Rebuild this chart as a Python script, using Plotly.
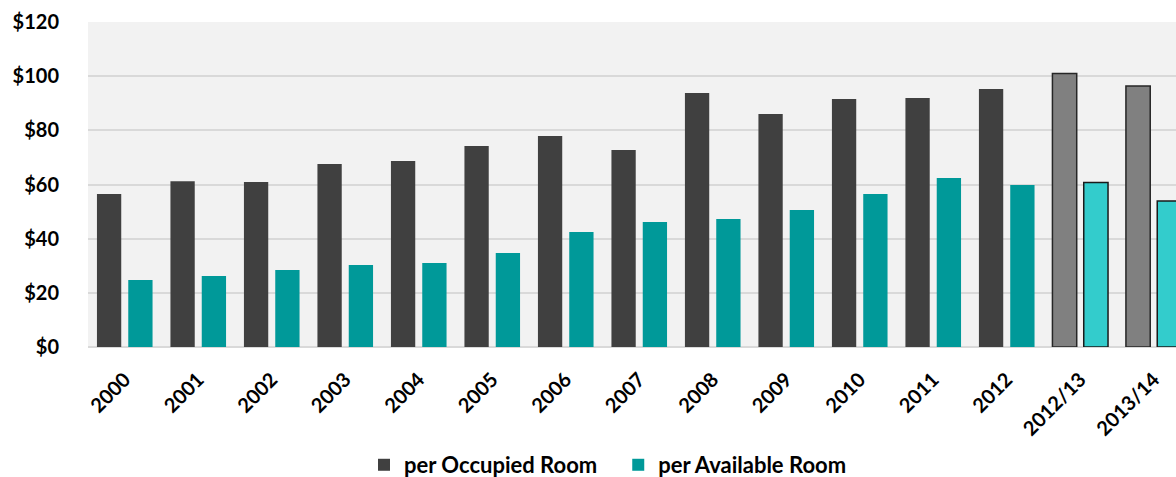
import plotly.graph_objects as go

categories = ["2000", "2001", "2002", "2003", "2004", "2005", "2006", "2007",
              "2008", "2009", "2010", "2011", "2012", "2012/13", "2013/14"]
per_occupied = [56.5, 61.2, 60.9, 67.6, 68.7, 74.2, 77.9, 72.7,
                93.8, 86.0, 91.6, 91.9, 95.3, 101.0, 96.4]
per_available = [24.7, 26.2, 28.4, 30.3, 31.0, 34.7, 42.5, 46.2,
                 47.3, 50.6, 56.5, 62.4, 59.8, 60.7, 53.9]
n_actual = 13  # last two are projections

occ_colors = ["#404040"] * n_actual + ["#808080"] * (len(categories) - n_actual)
avl_colors = ["#009999"] * n_actual + ["#33CCCC"] * (len(categories) - n_actual)
line_w = [0] * n_actual + [1.5] * (len(categories) - n_actual)

font_family = "Lato"

fig = go.Figure()
fig.add_trace(go.Bar(
    x=categories, y=per_occupied, name="per Occupied Room\u00a0\u00a0\u00a0",
    marker=dict(color=occ_colors, line=dict(color="#262626", width=line_w)),
))
fig.add_trace(go.Bar(
    x=categories, y=per_available, name="per Available Room",
    marker=dict(color=avl_colors, line=dict(color="#1a1a1a", width=line_w)),
))

fig.update_layout(
    width=1176, height=477,
    margin=dict(l=88, r=0, t=22, b=130, autoexpand=False),
    paper_bgcolor="white", plot_bgcolor="#f2f2f2",
    barmode="group", bargap=0.148, bargroupgap=0.224,
    hovermode=False,
    font=dict(family=font_family, size=20, color="#000000", weight="bold"),
    showlegend=True,
    legend=dict(orientation="h", x=0.2537, xanchor="left", y=-0.363, yanchor="middle",
                font=dict(size=22, weight="bold"), itemwidth=30,
                traceorder="normal"),
    xaxis=dict(type="category", range=[-0.5, 14.303], tickangle=-45,
               ticks="outside", ticklen=12, tickcolor="rgba(0,0,0,0)",
               showgrid=False, showline=False, automargin=False,
               tickfont=dict(size=20, weight="bold")),
    yaxis=dict(range=[0, 120], dtick=20, tickprefix="$",
               gridcolor="#d9d9d9", gridwidth=2, automargin=False,
               zeroline=True, zerolinecolor="#d9d9d9", zerolinewidth=2,
               ticks="outside", ticklen=24, tickcolor="rgba(0,0,0,0)",
               tickfont=dict(size=20, weight="bold")),
)

fig.write_html("out.html",
               config={"displayModeBar": False, "staticPlot": True},
               post_script="document.body.style.margin='0';document.body.style.overflow='hidden';")
